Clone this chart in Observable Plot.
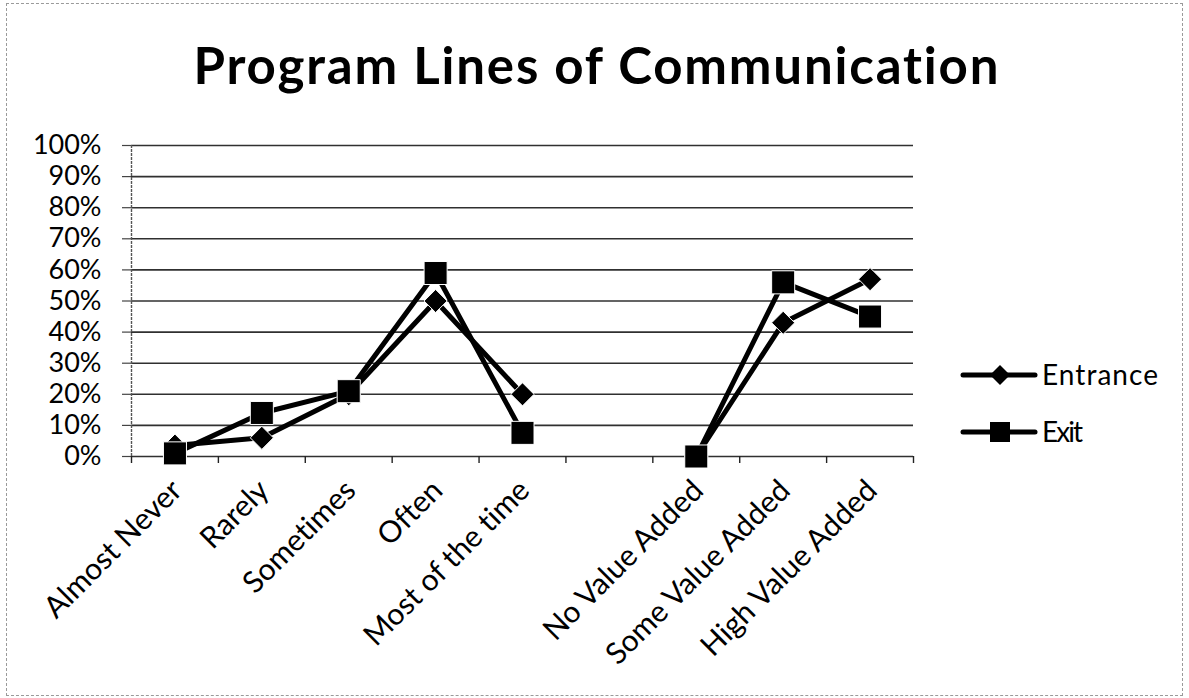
<!DOCTYPE html>
<html>
<head>
<meta charset="utf-8">
<script src="https://cdn.jsdelivr.net/npm/d3@7"></script>
<script src="https://cdn.jsdelivr.net/npm/@observablehq/plot@0.6"></script>
<style>
  body { margin: 0; background: #fff; }
  #wrap { position: relative; width: 1189px; height: 698px; overflow: hidden; font-family: Lato, "Open Sans", sans-serif; background: #fff; font-variant-ligatures: none; }
  #wrap text { font-variant-ligatures: none; }
  #frame { position: absolute; left: 6px; top: 3px; width: 1177px; height: 693px; border: 1px dashed #9a9a9a; box-sizing: border-box; pointer-events: none; }
  #titlebox { display: block; }
  #plotbox { display: block; }
  #overlay { position: absolute; left: 0; top: 0; pointer-events: none; }
</style>
</head>
<body>
<div id="wrap">
  <div id="titlebox"></div>
  <div id="plotbox"></div>
  <div id="frame"></div>
</div>
<script>
// ---- data ----
const title = "Program Lines of Communication";
const categories = ["Almost Never", "Rarely", "Sometimes", "Often", "Most of the time", "", "No Value Added", "Some Value Added", "High Value Added"];
const entrance = [0.035, 0.06, 0.20, 0.50, 0.20, null, 0.00, 0.43, 0.57];
const exit     = [0.01, 0.14, 0.21, 0.59, 0.076, null, 0.00, 0.56, 0.45];
const seriesNames = ["Entrance", "Exit"];
const yTicks = [0, 0.1, 0.2, 0.3, 0.4, 0.5, 0.6, 0.7, 0.8, 0.9, 1.0];
const yTickLabels = ["0%", "10%", "20%", "30%", "40%", "50%", "60%", "70%", "80%", "90%", "100%"];

// ---- build ----
const FONT = "Lato, 'Open Sans', sans-serif";
const n = categories.length;
const rowsEntrance = categories.map((c, i) => ({cat: c, i, pos: i + 0.5, v: entrance[i]}));
const rowsExit = categories.map((c, i) => ({cat: c, i, pos: i + 0.5, v: exit[i]}));
const boundaries = d3.range(n + 1);
const centers = d3.range(n).map(i => i + 0.5);

// title (above the plot SVG)
const tsvg = d3.create("svg").attr("width", 1189).attr("height", 110);
tsvg.append("text")
  .attr("x", 596).attr("y", 84)
  .attr("text-anchor", "middle")
  .attr("font-family", FONT)
  .attr("font-weight", "bold")
  .attr("font-size", 51)
  .attr("fill", "#000")
  .attr("textLength", 805)
  .attr("lengthAdjust", "spacing")
  .style("font-variant-ligatures", "none")
  .text(title);
document.getElementById("titlebox").appendChild(tsvg.node());

const chart = Plot.plot({
  width: 1189,
  height: 588,
  marginLeft: 131,
  marginRight: 276,
  marginTop: 32,
  marginBottom: 245,
  style: {fontFamily: FONT, color: "#000", background: "transparent", overflow: "visible"},
  x: {domain: [0, n], axis: null, label: null},
  y: {domain: [0, 1], axis: null, label: null},
  marks: [
    Plot.gridY(yTicks, {stroke: "#1a1a1a", strokeOpacity: 0.9, strokeWidth: 1.6}),
    Plot.axisY(yTicks, {
      label: null,
      tickFormat: d => yTickLabels[yTicks.indexOf(d)],
      tickSize: 9, tickPadding: 21, fontSize: 27, stroke: "#444", strokeWidth: 1.2
    }),
    Plot.ruleX([0], {stroke: "#555", strokeWidth: 1.4, strokeDasharray: "3,1"}),
    Plot.axisX(boundaries, {label: null, tickSize: 7, tickFormat: () => "", stroke: "#222", strokeWidth: 1.4}),
    Plot.axisX(centers, {
      label: null,
      tickSize: 0, tickPadding: 29, dx: 2,
      tickRotate: -45, fontSize: 30,
      tickFormat: d => categories[Math.floor(d)]
    }),
    Plot.line(rowsEntrance, {x: "pos", y: "v", stroke: "#000", strokeWidth: 5, strokeLinejoin: "round"}),
    Plot.dot(rowsEntrance, {x: "pos", y: "v", symbol: "diamond2", r: 10.4, fill: "#000", stroke: "#fff", strokeWidth: 1}),
    Plot.line(rowsExit, {x: "pos", y: "v", stroke: "#000", strokeWidth: 5, strokeLinejoin: "round"}),
    Plot.dot(rowsExit, {x: "pos", y: "v", symbol: "square", r: 13, fill: "#000", stroke: "#fff", strokeWidth: 1})
  ]
});
document.getElementById("plotbox").appendChild(chart);

// legend (to the right of the plot)
const lsvg = d3.create("svg").attr("id", "overlay").attr("width", 1189).attr("height", 698);
const legendItems = [
  {name: seriesNames[0], symbol: d3.symbolDiamond2, size: 255, cy: 375, textLen: 116},
  {name: seriesNames[1], symbol: d3.symbolSquare, size: 400, cy: 432, textLen: 41}
];
for (const it of legendItems) {
  const g = lsvg.append("g");
  g.append("line").attr("x1", 963).attr("x2", 1035).attr("y1", it.cy).attr("y2", it.cy)
    .attr("stroke", "#000").attr("stroke-width", 5).attr("stroke-linecap", "round");
  g.append("path").attr("d", d3.symbol(it.symbol, it.size)())
    .attr("transform", `translate(1000,${it.cy})`).attr("fill", "#000");
  g.append("text").attr("x", 1042).attr("y", it.cy + 10)
    .attr("font-family", FONT).attr("font-size", 28).attr("fill", "#000")
    .attr("textLength", it.textLen).attr("lengthAdjust", "spacing")
    .text(it.name);
}
document.getElementById("wrap").appendChild(lsvg.node());
</script>
</body>
</html>
